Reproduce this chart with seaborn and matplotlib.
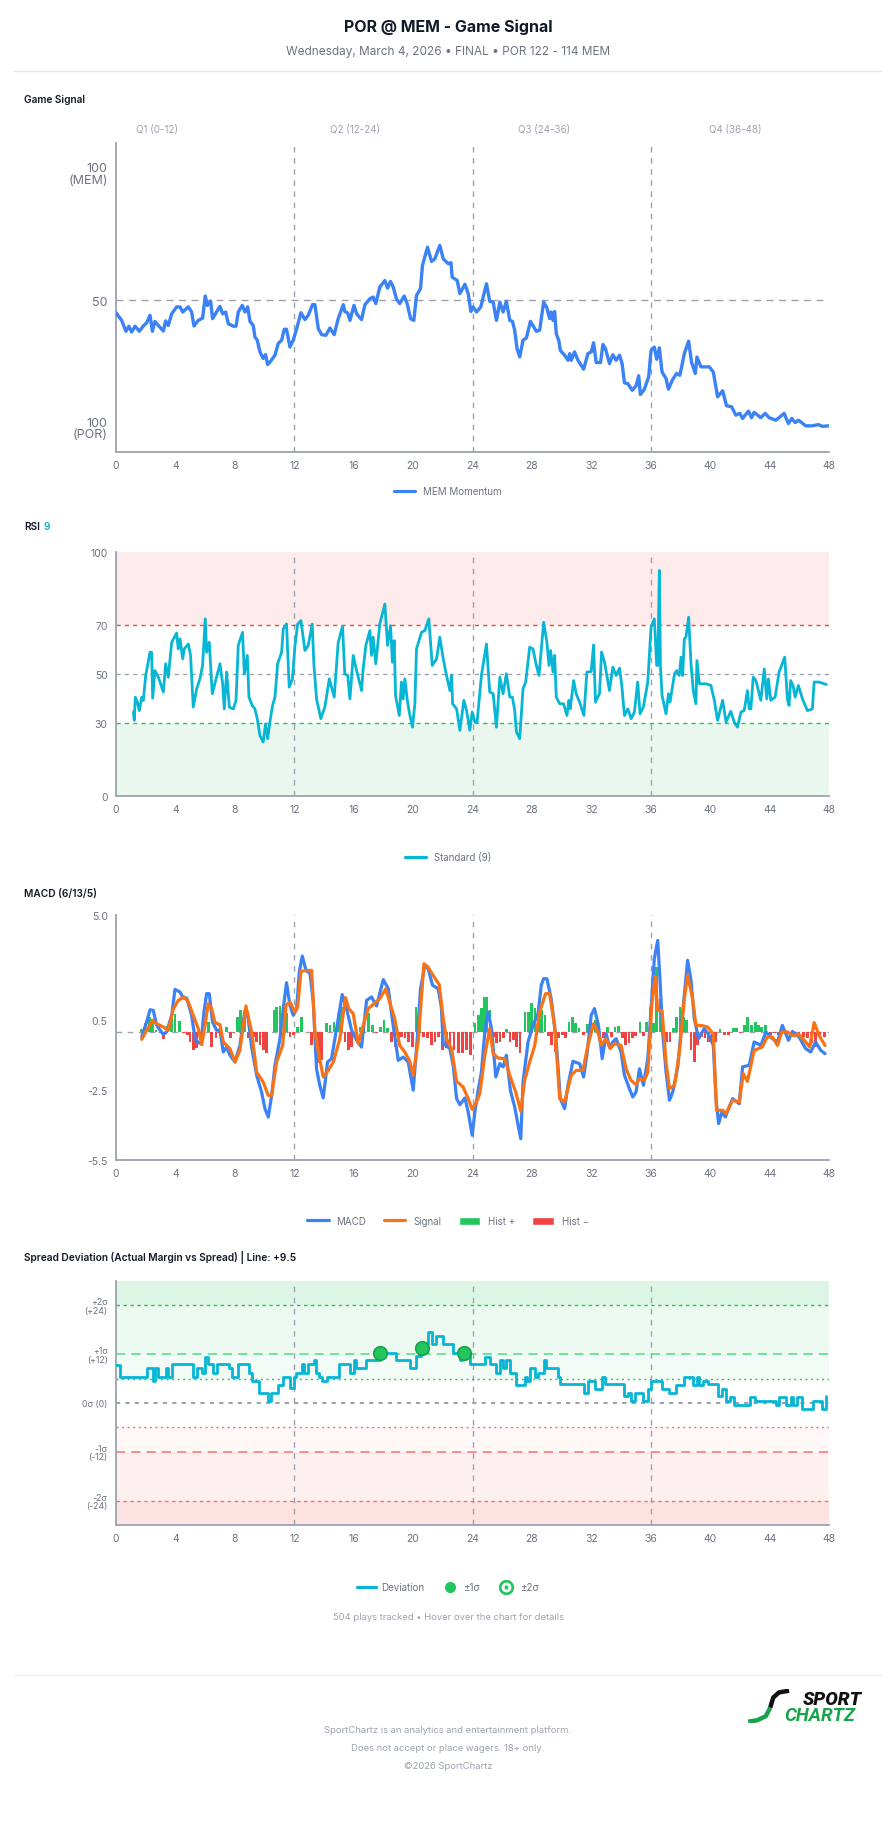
import matplotlib
matplotlib.use("Agg")
import matplotlib.pyplot as plt
import seaborn as sns
from matplotlib.lines import Line2D
from matplotlib.patches import Patch

# ---------------- DATA (minute, value) ----------------
signal_pts = [(0,45.0),(0.38,42),(0.67,37.7),(0.87,39.7),(1.05,37.4),(1.28,39.7),(1.57,37.7),(1.84,39.8),(2.06,41),(2.29,44),(2.45,37.7),(2.62,41.6),(2.85,40),(3.19,37.8),(3.34,41.8),(3.52,40),(3.75,44.6),(4.08,47.3),(4.31,47.3),(4.49,45.3),(4.87,47.3),(5.09,45.3),(5.25,39.8),(5.54,42),(5.83,42.9),(6.01,51.6),(6.15,47.9),(6.37,49.6),(6.5,42.7),(6.77,45.3),(7.0,47.5),(7.18,44.6),(7.38,45.3),(7.56,40.7),(7.9,39.7),(8.08,39.7),(8.23,45.3),(8.5,47.9),(8.68,45.3),(8.86,47.3),(9.02,41.6),(9.24,40),(9.35,35.5),(9.51,34.2),(9.69,29.6),(9.91,27),(10.07,28.5),(10.21,24.6),(10.41,25.9),(10.7,28.3),(10.92,32.9),(11.15,34.2),(11.33,38.5),(11.48,38.5),(11.71,31.5),(11.93,34.2),(12.16,38.7),(12.45,45),(12.72,42.3),(12.94,44),(13.23,48.2),(13.39,48.2),(13.62,38.7),(13.84,36.4),(14.13,36.1),(14.4,39),(14.69,36.4),(14.96,42.7),(15.3,48.2),(15.4,45.5),(15.6,44.9),(15.75,42),(16.02,47.9),(16.2,44.6),(16.53,42.3),(16.76,48.2),(17.09,50.5),(17.31,51.2),(17.49,48.6),(17.76,55.1),(18.1,57.7),(18.28,54.7),(18.48,57.3),(18.66,55.1),(18.88,50.5),(19.1,48.6),(19.4,51.6),(19.6,48.6),(19.83,42.7),(20.05,42),(20.23,51.8),(20.5,54.5),(20.63,63.6),(20.97,70.8),(21.24,65.2),(21.46,66.2),(21.8,71.5),(22.03,66.2),(22.37,64.3),(22.55,64.7),(22.63,59),(22.97,57.7),(23.15,52.5),(23.49,56.2),(23.71,52.5),(23.89,45.5),(24.04,47.3),(24.27,45.3),(24.56,47.3),(24.94,56.4),(25.16,49.5),(25.39,49.2),(25.61,42),(25.84,49.2),(26.06,45.3),(26.28,49.5),(26.51,42),(26.69,41.6),(26.84,38.1),(27.0,30.9),(27.18,27.6),(27.4,34.2),(27.63,35.1),(27.9,41.6),(28.3,37.7),(28.52,38.1),(28.79,49.2),(29.01,46.9),(29.19,42.7),(29.3,45.3),(29.42,42),(29.53,45.5),(29.64,36.8),(29.82,33.8),(29.91,30.2),(30.2,28.3),(30.43,26.3),(30.54,28.9),(30.65,26.3),(30.87,29.6),(31.1,26.3),(31.48,22.8),(31.77,28.9),(32.0,29.6),(32.15,33.2),(32.33,25.4),(32.62,25.4),(32.78,32.5),(32.95,30.9),(33.22,25),(33.45,28.5),(33.67,26.3),(33.9,28.3),(34.07,25),(34.23,17.4),(34.46,17.1),(34.75,14.5),(35.01,16.2),(35.19,20.2),(35.3,12.8),(35.57,14.9),(35.86,19.8),(36.02,30.2),(36.24,31.5),(36.4,26.7),(36.58,31.2),(36.76,21.7),(37.03,19.1),(37.19,14.9),(37.48,18.8),(37.74,21.1),(37.96,20.4),(38.08,23.7),(38.26,28.9),(38.55,33.8),(38.75,25.4),(39.0,21.1),(39.11,27.6),(39.38,23.7),(39.94,23.7),(40.21,21.7),(40.5,11.9),(40.84,14.3),(41.1,8.4),(41.44,8),(41.73,4.7),(42.0,5.4),(42.18,3.4),(42.58,6.3),(42.78,3.7),(42.96,5.8),(43.41,3.7),(43.7,5.4),(43.97,3.7),(44.42,2.7),(44.98,5.4),(45.27,1.4),(45.5,3.4),(45.72,1.8),(45.94,2.7),(46.44,0.5),(46.88,0.5),(47.28,1),(47.55,0.3),(47.96,0.5)]

rsi_pts = [(1.17,34.4),(1.23,31),(1.3,40.5),(1.44,38.5),(1.57,35),(1.73,40.5),(1.84,39.2),(2.0,49.4),(2.29,58.9),(2.4,58.9),(2.47,40.1),(2.62,51.4),(2.85,48.7),(3.19,42.6),(3.34,54.2),(3.52,48.7),(3.75,63),(4.08,66.8),(4.19,60.3),(4.31,64.4),(4.49,56.2),(4.6,60.3),(4.87,62.3),(5.02,57.6),(5.2,36.4),(5.43,43.9),(5.65,48),(5.83,53.5),(6.01,72.6),(6.1,58.9),(6.28,63),(6.48,41.9),(6.77,48.7),(7.0,54.2),(7.18,46),(7.29,35.7),(7.45,50.8),(7.63,36.4),(7.9,35.7),(8.08,39.2),(8.23,61.7),(8.52,67.1),(8.64,50.1),(8.84,57.6),(8.95,40.5),(9.17,37.1),(9.35,35.7),(9.51,31.7),(9.69,24.8),(9.91,22.1),(10.07,29.6),(10.21,23.5),(10.36,30.3),(10.54,37.1),(10.7,40.5),(10.88,54.2),(11.15,58.9),(11.26,68.5),(11.48,70.5),(11.66,44.6),(11.88,48),(12.05,61.7),(12.23,70.5),(12.45,71.9),(12.72,59.6),(12.94,61.7),(13.21,70.5),(13.32,54.2),(13.5,39.8),(13.79,31.7),(14.06,36.4),(14.36,48),(14.69,40.5),(14.96,63),(15.25,69.6),(15.4,50.1),(15.6,49.4),(15.75,39.8),(15.97,57.6),(16.2,51.4),(16.53,43.2),(16.64,52.1),(16.82,61.7),(17.09,67.8),(17.2,57.6),(17.31,65.1),(17.49,54.2),(17.76,70.5),(18.1,78.7),(18.28,61.7),(18.48,69.8),(18.61,54.8),(18.73,63.7),(18.82,41.2),(19.07,33),(19.22,46.7),(19.33,39.8),(19.45,48),(19.6,39.8),(19.74,34.4),(19.96,28.2),(20.12,37.8),(20.23,60.3),(20.57,67.1),(20.79,67.8),(21.06,72.6),(21.29,53.5),(21.58,56.2),(21.8,65.1),(22.03,56.2),(22.25,49.4),(22.48,43.2),(22.59,49.4),(22.66,37.8),(22.93,35.7),(23.15,26.9),(23.42,39.2),(23.6,35),(23.82,26.9),(23.98,34.4),(24.16,30.3),(24.31,30.3),(24.6,49.4),(24.94,62.3),(25.16,42.6),(25.39,41.9),(25.61,28.2),(25.84,48.7),(26.06,41.9),(26.28,50.1),(26.51,40.5),(26.69,40.5),(26.84,35),(26.96,26.2),(27.18,23.5),(27.4,43.9),(27.58,46.7),(27.85,61),(28.07,60.3),(28.3,53.5),(28.48,49.4),(28.79,71.2),(29.01,63),(29.15,53.5),(29.26,59.6),(29.42,50.8),(29.53,57.6),(29.64,40.5),(29.87,37.8),(30.13,37.8),(30.36,33),(30.49,39.2),(30.58,35.7),(30.81,47.3),(30.98,41.9),(31.21,38.5),(31.5,33),(31.7,50.8),(31.99,51),(32.15,61.9),(32.28,38.5),(32.55,42),(32.69,59),(32.89,54.8),(33.22,43.2),(33.45,52.8),(33.67,49.4),(33.9,52.4),(34.05,45.3),(34.23,33),(34.46,35.7),(34.68,31.7),(34.9,34.4),(35.12,46.7),(35.28,33.7),(35.5,36.4),(35.8,46.7),(36.02,69.2),(36.24,72.6),(36.4,53.5),(36.47,53.5),(36.58,92.4),(36.65,53.5),(36.76,41.2),(37.03,33.7),(37.19,41.9),(37.3,38.5),(37.6,50.1),(37.74,51.4),(37.92,49.4),(38.04,56.9),(38.15,49.4),(38.26,64.4),(38.37,65.1),(38.55,73.3),(38.71,54.2),(38.86,43.2),(39.04,37.8),(39.11,55.5),(39.27,46),(39.72,46),(40.05,45.3),(40.28,39.2),(40.5,31),(40.84,39.2),(41.07,30.3),(41.39,34.7),(41.62,30.3),(41.84,28.2),(42.07,34.4),(42.29,35),(42.51,43.2),(42.63,35.7),(42.74,35.7),(42.9,48.7),(43.08,47.3),(43.41,39.2),(43.64,52.1),(43.81,39.8),(43.92,48),(44.08,39.2),(44.37,40.5),(44.64,50.8),(45.02,56.9),(45.2,39.8),(45.31,37.1),(45.42,47.3),(45.58,45.3),(45.72,40.5),(45.94,45.3),(46.21,39.8),(46.55,35),(46.88,35.7),(47.0,46.7),(47.33,46.7),(47.82,45.7)]

macd_pts = [(1.73,-0.23),(2.06,0.41),(2.29,0.94),(2.51,0.91),(2.74,0.27),(3.19,-0.13),(3.41,-0.01),(3.75,0.7),(3.97,1.81),(4.31,1.7),(4.53,1.44),(4.76,1.44),(5.09,0.7),(5.32,-0.3),(5.54,-0.47),(5.72,-0.51),(5.92,0.84),(6.1,1.63),(6.28,1.63),(6.5,0.41),(6.77,0.06),(7.0,0.06),(7.22,-0.87),(7.45,-0.66),(7.67,-1.01),(8.01,-1.3),(8.34,-0.59),(8.68,0.91),(8.9,0.56),(9.13,-0.66),(9.47,-1.87),(9.8,-2.59),(10.03,-3.3),(10.25,-3.66),(10.48,-2.73),(10.7,-1.44),(11.04,-0.3),(11.26,0.99),(11.48,2.1),(11.71,1.13),(11.93,0.7),(12.16,0.99),(12.34,2.56),(12.54,3.24),(12.79,2.63),(13.06,2.49),(13.28,1.27),(13.5,-1.59),(13.72,-2.3),(13.95,-2.84),(14.24,-1.3),(14.51,-1.16),(14.85,0.13),(15.23,1.59),(15.52,0.99),(15.86,0.06),(16.2,-0.37),(16.53,-0.66),(16.87,1.34),(17.2,1.49),(17.54,1.1),(17.99,2.23),(18.33,1.84),(18.66,0.27),(19.0,-1.23),(19.33,-1.09),(19.67,-1.3),(20.01,-2.51),(20.28,-0.3),(20.5,1.84),(20.79,2.84),(21.01,2.7),(21.31,1.99),(21.69,1.84),(21.9,1.06),(22.03,-0.51),(22.48,-0.73),(22.7,-1.44),(22.93,-2.87),(23.15,-3.13),(23.49,-2.84),(23.71,-3.44),(23.98,-4.44),(24.16,-3.44),(24.38,-2.51),(24.6,-1.73),(24.83,-0.01),(25.05,0.84),(25.28,0.13),(25.57,-1.94),(25.84,-1.37),(26.06,-1.51),(26.28,-1.01),(26.55,-2.51),(26.84,-3.23),(27.07,-4.01),(27.25,-4.59),(27.4,-2.16),(27.74,-0.44),(28.07,0.27),(28.41,0.77),(28.63,1.99),(28.79,2.27),(29.01,2.27),(29.3,1.41),(29.64,-0.44),(29.91,-2.87),(30.2,-3.3),(30.43,-2.3),(30.76,-1.27),(31.21,-1.37),(31.48,-1.94),(31.7,-1.01),(31.99,0.7),(32.21,0.99),(32.48,0.27),(32.73,-1.16),(33.0,-0.09),(33.22,-0.66),(33.45,-0.44),(33.67,-0.3),(34.0,-0.87),(34.23,-1.87),(34.56,-2.44),(34.79,-2.8),(35.01,-2.59),(35.24,-1.59),(35.51,-2.3),(35.8,-1.16),(36.02,0.99),(36.24,3.13),(36.47,3.91),(36.63,2.13),(36.8,-0.01),(37.03,-1.73),(37.26,-2.94),(37.48,-2.59),(37.82,-1.51),(38.15,0.84),(38.48,3.06),(38.71,2.2),(38.93,0.56),(39.22,-0.3),(39.6,0.13),(39.94,-0.16),(40.21,-0.59),(40.39,-2.87),(40.57,-3.94),(40.79,-3.44),(41.02,-3.66),(41.51,-2.87),(41.96,-3.09),(42.18,-1.51),(42.63,-1.44),(42.96,-0.44),(43.41,-0.59),(43.75,-0.01),(44.19,-0.3),(44.53,-0.44),(44.86,0.27),(45.27,-0.37),(45.54,0.01),(45.99,-0.23),(46.43,-0.73),(46.77,-0.87),(47.1,-0.44),(47.44,-0.8),(47.73,-0.94)]

macd_signal_pts = [(1.73,-0.33),(2.06,0.06),(2.47,0.49),(2.74,0.34),(3.19,0.2),(3.52,0.06),(3.86,0.99),(4.19,1.34),(4.58,1.49),(4.87,1.27),(5.2,0.7),(5.54,0.13),(5.77,-0.56),(5.99,0.27),(6.21,1.2),(6.44,0.99),(6.66,0.39),(7.0,0.3),(7.22,-0.44),(7.67,-0.73),(8.01,-1.3),(8.34,-0.8),(8.75,1.1),(9.13,-0.01),(9.47,-1.73),(9.91,-2.16),(10.25,-2.73),(10.48,-2.73),(10.81,-1.3),(11.22,-0.59),(11.44,1.13),(11.71,1.27),(12.05,0.84),(12.23,1.06),(12.45,2.59),(12.72,2.61),(13.17,2.63),(13.39,-0.01),(13.62,-0.87),(13.95,-1.94),(14.29,-1.66),(14.63,-1.3),(15.07,-0.3),(15.45,1.46),(15.67,0.99),(15.97,0.77),(16.31,-0.51),(16.64,0.27),(16.98,0.99),(17.31,1.17),(17.76,1.41),(18.16,1.84),(18.42,1.27),(18.76,0.56),(19.1,-0.59),(19.44,-0.87),(19.78,-1.27),(20.01,-1.87),(20.35,-0.37),(20.73,2.91),(21.01,2.77),(21.35,2.41),(21.76,2.01),(22.03,0.56),(22.25,-0.3),(22.59,-0.73),(22.93,-2.13),(23.37,-2.37),(23.71,-2.87),(23.98,-3.33),(24.27,-3.01),(24.49,-2.66),(24.83,-1.01),(25.16,0.13),(25.39,-0.94),(25.72,-1.13),(26.17,-1.16),(26.51,-1.87),(26.91,-2.59),(27.25,-3.41),(27.51,-2.09),(27.85,-1.3),(28.19,-0.59),(28.52,0.84),(28.92,1.63),(29.19,1.63),(29.53,0.27),(29.87,-2.87),(30.2,-3.01),(30.65,-1.87),(30.98,-1.66),(31.43,-1.66),(31.77,-0.59),(32.15,0.34),(32.44,-0.01),(32.66,-0.56),(33.0,-0.3),(33.27,-0.73),(33.56,-0.51),(34.0,-0.59),(34.34,-1.59),(34.67,-2.09),(35.01,-2.27),(35.24,-2.01),(35.57,-2.09),(35.8,-1.73),(36.07,1.13),(36.3,2.34),(36.47,0.91),(36.76,0.91),(37.03,-1.3),(37.26,-2.44),(37.6,-2.3),(37.93,-0.87),(38.26,1.41),(38.48,2.41),(38.82,1.41),(39.04,0.27),(39.38,0.27),(39.82,0.2),(40.21,-0.09),(40.43,-3.37),(40.84,-3.37),(41.06,-3.51),(41.51,-2.94),(41.96,-3.01),(42.23,-1.8),(42.51,-2.13),(42.96,-0.8),(43.51,-0.66),(43.84,-0.23),(44.19,-0.23),(44.53,-0.59),(44.82,-0.01),(45.2,-0.01),(45.54,-0.16),(45.99,-0.13),(46.43,-0.44),(46.7,-0.66),(47.0,0.39),(47.33,-0.16),(47.73,-0.59)]

hist_pts = [(1.73,0.1),(1.95,0.36),(2.24,0.64),(2.47,0.53),(2.69,0.07),(2.96,-0.07),(3.19,-0.33),(3.46,0.24),(3.75,0.57),(3.97,0.76),(4.26,0.47),(4.53,-0.07),(4.8,-0.14),(4.98,-0.43),(5.2,-0.79),(5.43,-0.71),(5.66,-0.29),(5.93,0.14),(6.21,0.43),(6.44,-0.64),(6.73,-0.29),(6.96,-0.07),(7.45,0.19),(7.72,-0.29),(7.94,-0.07),(8.17,0.64),(8.39,0.93),(8.69,0.79),(8.91,-0.29),(9.24,-0.21),(9.47,-0.43),(9.69,-0.57),(9.92,-0.79),(10.14,-0.93),(10.64,0.93),(10.82,1.07),(11.04,1.1),(11.31,0.93),(11.49,0.8),(11.71,-0.21),(11.94,-0.14),(12.21,0.21),(12.5,0.61),(13.17,-0.57),(13.4,-0.93),(13.62,-1.36),(13.85,-1.21),(14.19,0.36),(14.41,0.29),(14.68,0.43),(14.97,0.79),(15.2,1.04),(15.42,-0.43),(15.65,-0.79),(15.87,-0.64),(16.16,-0.29),(16.43,0.21),(16.7,0.5),(16.99,0.79),(17.28,0.29),(17.55,-0.07),(17.82,0.21),(18.04,0.5),(18.27,0.14),(18.56,-0.43),(18.78,-0.64),(19.0,-0.43),(19.23,-0.21),(19.45,-0.29),(19.68,-0.43),(19.97,-0.64),(20.2,1.07),(20.42,0.6),(20.69,-0.21),(20.96,-0.29),(21.25,-0.57),(21.48,-0.43),(21.7,-0.21),(21.97,-0.79),(22.26,-0.71),(22.48,-0.93),(22.75,-0.79),(23.05,-0.93),(23.32,-0.93),(23.61,-0.79),(23.88,-1.0),(24.17,0.36),(24.4,0.71),(24.62,1.0),(24.8,1.47),(24.96,1.47),(25.18,0.93),(25.4,-0.21),(25.63,-0.5),(25.85,-0.43),(26.08,-0.29),(26.3,0.1),(26.52,-0.43),(26.75,-0.36),(26.97,-0.64),(27.2,-0.93),(27.54,0.86),(27.76,0.86),(27.99,1.21),(28.21,1.0),(28.43,0.64),(28.66,0.93),(28.88,0.71),(29.1,-0.19),(29.33,-0.57),(29.55,-0.86),(29.78,-0.29),(30.05,-0.14),(30.27,-0.29),(30.5,0.43),(30.72,0.64),(30.95,0.36),(31.17,0.14),(31.46,-0.14),(31.76,0.33),(32.03,0.36),(32.3,0.5),(32.52,0.29),(32.81,-0.29),(33.08,0.19),(33.37,-0.21),(33.59,0.21),(33.82,0.24),(34.09,-0.29),(34.31,-0.57),(34.54,-0.5),(34.76,-0.29),(34.99,-0.19),(35.28,0.43),(35.5,-0.19),(35.73,0.43),(35.95,1.07),(36.17,0.36),(36.4,2.79),(36.62,1.4),(36.85,-0.5),(37.07,-0.43),(37.29,-0.43),(37.52,0.14),(37.74,0.64),(37.97,1.07),(38.19,0.64),(38.42,0.5),(38.71,-0.79),(38.93,-1.29),(39.16,-0.57),(39.43,-0.21),(39.65,-0.29),(39.88,-0.43),(40.15,-0.36),(40.37,-0.43),(40.66,0.1),(40.96,-0.14),(41.23,-0.14),(41.56,0.14),(41.79,0.14),(42.06,-0.07),(42.31,0.29),(42.53,0.64),(42.76,0.29),(43.03,0.43),(43.25,0.29),(43.48,0.21),(43.75,0.29),(44.04,-0.14),(44.31,-0.07),(44.6,-0.14),(44.86,0.14),(45.15,-0.14),(45.44,-0.14),(45.71,-0.21),(45.98,-0.21),(46.27,-0.21),(46.56,-0.29),(46.83,-0.5),(47.1,-0.64),(47.39,-0.29),(47.68,-0.21)]

deviation_pts = [(0,9.3),(0.27,6.5),(2.06,8.6),(2.47,5.5),(2.62,8.6),(2.85,6.5),(3.34,8.6),(3.52,6.5),(3.75,9.6),(5.2,6.5),(5.43,8.6),(5.77,7.5),(6.01,11.4),(6.21,9.6),(6.55,7.5),(6.77,9.6),(7.63,8.6),(7.78,6.5),(8.23,9.6),(8.97,7.5),(9.17,5.5),(9.65,2.4),(10.21,0.4),(10.41,2.4),(10.92,4.4),(11.26,6.5),(11.71,3.6),(11.98,6.5),(12.11,7.5),(12.49,9.6),(12.65,7.5),(12.94,9.6),(13.32,10.6),(13.46,7.5),(13.68,6.5),(13.84,5.5),(14.18,6.5),(15.03,9.6),(15.75,7.5),(16.02,10.6),(16.15,8.6),(16.82,10.6),(17.76,11.4),(18.0,12.4),(18.84,10.6),(19.78,8.6),(20.23,11.6),(20.5,12.4),(20.68,14.4),(21.02,17.5),(21.24,14.4),(21.53,16.5),(22.03,14.4),(22.66,12.4),(23.15,10.6),(23.3,12.4),(23.82,9.6),(24.83,11.4),(25.21,9.6),(25.61,7.5),(25.84,10.6),(26.06,8.6),(26.28,10.6),(26.51,7.5),(26.96,4.4),(27.51,6.5),(27.67,5.5),(27.9,8.6),(28.19,6.5),(28.41,7.5),(28.79,10.6),(28.97,8.6),(29.75,6.5),(29.87,4.7),(31.48,2.4),(31.77,5.5),(32.28,3.4),(32.71,6.5),(32.89,4.7),(34.23,1.8),(34.46,2.4),(34.68,0.6),(34.97,2.4),(35.46,0.4),(35.8,3.4),(36.02,5.5),(36.76,3.4),(37.21,2.4),(37.7,4.4),(38.26,6.5),(38.82,4.4),(39.11,6.5),(39.27,4.4),(39.54,5.5),(39.83,4.7),(40.5,1.8),(40.79,3.4),(41.06,0.6),(41.33,1.4),(41.62,-0.4),(42.67,1.4),(43.03,0.4),(44.46,-0.4),(44.64,1.4),(45.13,-0.4),(45.42,1.4),(45.58,-0.4),(45.87,1.4),(46.21,-1.5),(46.92,0.4),(47.55,-1.5),(47.82,1.6)]

sigma1_pts = [(17.8,12.4),(20.6,13.5),(23.4,12.4)]

x_ticks = list(range(0, 49, 4))
quarter_lines = [12, 24, 36]
quarter_labels = ["Q1 (0-12)", "Q2 (12-24)", "Q3 (24-36)", "Q4 (36-48)"]
signal_ticks = [0, 50, 100]
signal_ticklabels = ["100\n(POR)", "50", "100\n(MEM)"]
rsi_ticks = [0, 30, 50, 70, 100]
macd_ticks = [5.0, 0.5, -2.5, -5.5]
macd_ticklabels = ["5.0", "0.5", "-2.5", "-5.5"]
dev_ticks = [24, 12, 0, -12, -24]
dev_ticklabels = ["+2σ\n(+24)", "+1σ\n(+12)", "0σ (0)", "-1σ\n(-12)", "-2σ\n(-24)"]

def unzip(pts):
    return [p[0] for p in pts], [p[1] for p in pts]

# ---------------- STYLE ----------------
sns.set_theme(style="white")
plt.rcParams["font.family"] = ["Inter", "DejaVu Sans"]

W, H = 896, 1824
fig = plt.figure(figsize=(W / 100, H / 100), dpi=100)
fig.patch.set_facecolor("white")

def fx(x): return x / W
def fy(y): return 1 - y / H

def add_ax(left, top, right, bottom):
    return fig.add_axes([left / W, 1 - bottom / H, (right - left) / W, (bottom - top) / H])

GRAY = "#9ca3af"
TXT = "#6b7280"
BLUE = "#3b82f6"
CYAN = "#06b6d4"
ORANGE = "#f97316"
GREEN = "#22c55e"
RED = "#ef4444"

def style(ax):
    for s in ["top", "right"]:
        ax.spines[s].set_visible(False)
    for s in ["left", "bottom"]:
        ax.spines[s].set_color(GRAY)
        ax.spines[s].set_linewidth(1.3)
    ax.tick_params(axis="both", colors=GRAY, labelcolor=TXT, length=4, width=1,
                   labelsize=7.5, direction="out", pad=2)
    ax.set_xlim(0, 48)
    ax.set_xticks(x_ticks)
    ax.set_xticklabels([str(t) for t in x_ticks])
    for q in quarter_lines:
        ax.axvline(q, color=GRAY, lw=1, ls=(0, (4, 4)), zorder=1)
    ax.set_xlabel("")
    ax.set_ylabel("")

# ---------------- HEADER ----------------
fig.text(0.5, fy(27), "POR @ MEM - Game Signal", ha="center", va="center",
         fontsize=11.5, fontweight="bold", color="#111827")
fig.text(0.5, fy(52), "Wednesday, March 4, 2026 • FINAL • POR 122 - 114 MEM",
         ha="center", va="center", fontsize=8.5, color=TXT)
fig.add_artist(Line2D([fx(14), fx(882)], [fy(72), fy(72)], color="#e5e7eb", lw=1))

def panel_title(y, text):
    fig.text(fx(24), fy(y), text, ha="left", va="center", fontsize=7.3,
             fontweight="semibold", color="#111827")

# ---------------- GAME SIGNAL ----------------
panel_title(100, "Game Signal")
for lab, xp in zip(quarter_labels, [157, 355, 544, 735]):
    fig.text(fx(xp), fy(130), lab, ha="center", va="center", fontsize=7, color=GRAY)

ax1 = add_ax(116, 144, 829, 453)
style(ax1)
ax1.axhline(50, color=GRAY, lw=1, ls=(0, (5, 4)), zorder=1)
sx, sy = unzip(signal_pts)
sns.lineplot(x=sx, y=sy, ax=ax1, color=BLUE, lw=2.4, sort=False, estimator=None, zorder=3)
ax1.set_ylim(-9.8, 111.8)
ax1.set_yticks(signal_ticks)
ax1.set_yticklabels(signal_ticklabels, fontsize=9, linespacing=0.95)
ax1.tick_params(axis="y", labelsize=9)
fig.legend(handles=[Line2D([], [], color=BLUE, lw=2.3)], labels=["MEM Momentum"],
           loc="center", bbox_to_anchor=(0.5, fy(492)), frameon=False, fontsize=7,
           labelcolor=TXT, handlelength=2.2)

# ---------------- RSI ----------------
fig.text(fx(24), fy(527), "RSI", ha="left", va="center", fontsize=7.3,
         fontweight="semibold", color="#111827")
fig.text(fx(43), fy(527), "9", ha="left", va="center", fontsize=7.3,
         fontweight="semibold", color=CYAN)
ax2 = add_ax(116, 553, 829, 797)
style(ax2)
ax2.axhspan(70, 100, color="#fdeaea", zorder=0, lw=0)
ax2.axhspan(0, 30, color="#e9f7ee", zorder=0, lw=0)
ax2.axhline(70, color=RED, lw=1, ls=(0, (3, 3)), zorder=2)
ax2.axhline(30, color=GREEN, lw=1, ls=(0, (3, 3)), zorder=2)
ax2.axhline(50, color=GRAY, lw=1, ls=(0, (3, 3)), zorder=2)
rx, ry = unzip(rsi_pts)
sns.lineplot(x=rx, y=ry, ax=ax2, color=CYAN, lw=2.0, sort=False, estimator=None, zorder=3)
ax2.set_ylim(0, 100)
ax2.set_yticks(rsi_ticks)
ax2.set_yticklabels([str(t) for t in rsi_ticks])
fig.legend(handles=[Line2D([], [], color=CYAN, lw=2.3)], labels=["Standard (9)"],
           loc="center", bbox_to_anchor=(0.5, fy(858)), frameon=False, fontsize=7,
           labelcolor=TXT, handlelength=2.2)

# ---------------- MACD ----------------
panel_title(894, "MACD (6/13/5)")
ax3 = add_ax(116, 916, 829, 1161)
style(ax3)
ax3.axhline(0, color=GRAY, lw=1, ls=(0, (4, 4)), zorder=1)
hx, hy = unzip(hist_pts)
ax3.bar(hx, hy, width=0.19, color=[GREEN if v >= 0 else RED for v in hy],
        zorder=2, linewidth=0)
mx, my = unzip(macd_pts)
gx, gy = unzip(macd_signal_pts)
sns.lineplot(x=mx, y=my, ax=ax3, color=BLUE, lw=2.3, sort=False, estimator=None, zorder=3)
sns.lineplot(x=gx, y=gy, ax=ax3, color=ORANGE, lw=2.3, sort=False, estimator=None, zorder=4)
ax3.set_ylim(-5.5, 5.0)
ax3.set_yticks(macd_ticks)
ax3.set_yticklabels(macd_ticklabels)
fig.legend(handles=[Line2D([], [], color=BLUE, lw=2.3), Line2D([], [], color=ORANGE, lw=2.3),
                    Patch(facecolor=GREEN), Patch(facecolor=RED)],
           labels=["MACD", "Signal", "Hist +", "Hist −"],
           loc="center", bbox_to_anchor=(0.5, fy(1222)), frameon=False, fontsize=7,
           labelcolor=TXT, ncol=4, handlelength=2.2, columnspacing=1.8,
           handleheight=0.9)

# ---------------- SPREAD DEVIATION ----------------
panel_title(1258, "Spread Deviation (Actual Margin vs Spread) | Line: +9.5")
ax4 = add_ax(116, 1282, 829, 1526)
style(ax4)
ax4.axhspan(24, 30, color="#dcf5e5", zorder=0, lw=0)
ax4.axhspan(12, 24, color="#ecfaf1", zorder=0, lw=0)
ax4.axhspan(6, 12, color="#f3fbf6", zorder=0, lw=0)
ax4.axhspan(-12, -6, color="#fff6f6", zorder=0, lw=0)
ax4.axhspan(-24, -12, color="#fff0f0", zorder=0, lw=0)
ax4.axhspan(-30, -24, color="#fde2e2", zorder=0, lw=0)
ax4.axhline(24, color=GREEN, lw=1, ls=(0, (2.5, 2.5)), zorder=2)
ax4.axhline(12, color="#4ade80", lw=1.1, ls=(0, (6, 4)), zorder=2)
ax4.axhline(6, color=GREEN, lw=1, ls=(0, (1.5, 2.5)), zorder=2)
ax4.axhline(0, color=GRAY, lw=1.5, ls=(0, (2, 2.5)), zorder=2)
ax4.axhline(-6, color="#f87171", lw=1, ls=(0, (1.5, 2.5)), zorder=2)
ax4.axhline(-12, color="#f87171", lw=1.1, ls=(0, (6, 4)), zorder=2)
ax4.axhline(-24, color="#f87171", lw=1, ls=(0, (2.5, 2.5)), zorder=2)
dx, dy = unzip(deviation_pts)
sns.lineplot(x=dx, y=dy, ax=ax4, color=CYAN, lw=2.0, sort=False, estimator=None,
             drawstyle="steps-post", zorder=3)
px, py = unzip(sigma1_pts)
sns.scatterplot(x=px, y=py, ax=ax4, color=GREEN, s=95, edgecolor="#16a34a",
                linewidth=1.2, zorder=5)
ax4.set_ylim(-30, 30)
ax4.set_yticks(dev_ticks)
ax4.set_yticklabels(dev_ticklabels, fontsize=6.3, linespacing=0.95)
ax4.tick_params(axis="y", labelsize=6.3)
fig.legend(handles=[Line2D([], [], color=CYAN, lw=2.3),
                    Line2D([], [], color=GREEN, marker="o", ls="none", markersize=7),
                    Line2D([], [], color=GREEN, marker=r"$\bigodot$", ls="none", markersize=10)],
           labels=["Deviation", "±1σ", "±2σ"],
           loc="center", bbox_to_anchor=(0.5, fy(1588)), frameon=False, fontsize=7,
           labelcolor=TXT, ncol=3, handlelength=2.0, columnspacing=1.6, handletextpad=0.5)

fig.text(0.5, fy(1618), "504 plays tracked • Hover over the chart for details",
         ha="center", va="center", fontsize=6.8, color=GRAY)

# ---------------- FOOTER ----------------
fig.add_artist(Line2D([fx(14), fx(882)], [fy(1676), fy(1676)], color="#eeeeee", lw=1))
fig.text(fx(862), fy(1700), "SPORT", ha="right", va="center", fontsize=13.5,
         fontweight="black", fontstyle="italic", family=["Roboto", "DejaVu Sans"], color="#111111")
fig.text(fx(855), fy(1716), "CHARTZ", ha="right", va="center", fontsize=13.5,
         fontweight="bold", fontstyle="italic", family=["Roboto", "DejaVu Sans"], color="#16a34a")
lg = fig.add_axes([fx(746), fy(1724), (790 - 746) / W, (1724 - 1690) / H])
lg.set_xlim(0, 1); lg.set_ylim(0, 1); lg.axis("off")
lg.plot([0.98, 0.75, 0.62, 0.55], [0.95, 0.9, 0.75, 0.45], color="#111111", lw=3.2,
        solid_capstyle="butt")
lg.plot([0.55, 0.45, 0.25, 0.05], [0.45, 0.2, 0.08, 0.04], color="#16a34a", lw=3.2,
        solid_capstyle="butt")

for i, line in enumerate(["SportChartz is an analytics and entertainment platform.",
                          "Does not accept or place wagers. 18+ only.",
                          "©2026 SportChartz"]):
    fig.text(0.5, fy(1731 + i * 18), line, ha="center", va="center", fontsize=6.8, color=GRAY)

fig.savefig("out.png", dpi=100, facecolor="white")
